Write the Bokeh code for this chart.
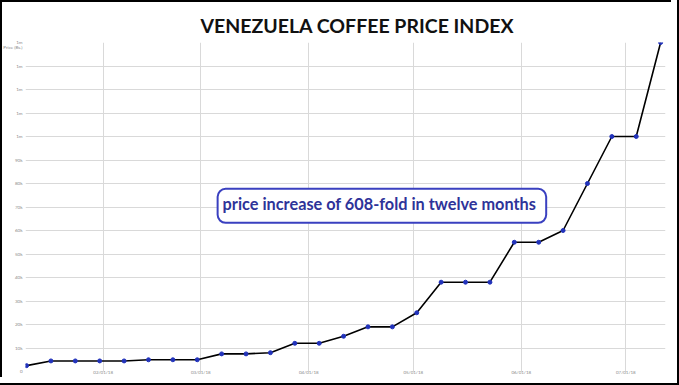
from datetime import datetime, timedelta
from bokeh.plotting import figure
from bokeh.models import (ColumnDataSource, Range1d, FixedTicker, Label)
from bokeh.embed import file_html
from bokeh.resources import INLINE

# ---- data ----
start_date = datetime(2018, 1, 10)
n_weeks = 27
dates = [start_date + timedelta(days=7 * i) for i in range(n_weeks)]
prices = [2500, 4500, 4500, 4500, 4500, 5000, 5000, 5000, 7500, 7500, 8000,
          12000, 12000, 15000, 19000, 19000, 25000, 38000, 38000, 38000,
          55000, 55000, 60000, 80000, 100000, 100000, 140000]

y_ticks = [0, 10000, 20000, 30000, 40000, 50000, 60000, 70000, 80000, 90000,
           100000, 110000, 120000, 130000, 140000]
y_tick_labels = ["0", "10k", "20k", "30k", "40k", "50k", "60k", "70k", "80k",
                 "90k", "1m", "1m", "1m", "1m", "1m"]
x_tick_dates = [datetime(2018, 2, 1), datetime(2018, 3, 1), datetime(2018, 4, 1),
                datetime(2018, 5, 1), datetime(2018, 6, 1), datetime(2018, 7, 1)]
x_tick_labels = ["02/01/18", "03/01/18", "04/01/18", "05/01/18", "06/01/18", "07/01/18"]

title_text = "VENEZUELA COFFEE PRICE INDEX"
note_text = "price increase of 608-fold in twelve months"
y_title = "Price (Bs.)"
y_title_at = 138000


def ms(d):
    return (d - datetime(1970, 1, 1)).total_seconds() * 1000.0


source = ColumnDataSource(dict(x=[ms(d) for d in dates], y=prices))

day = 86400000.0
x0 = ms(dates[0]) - 0.3 * day
x1 = ms(dates[-1]) + 1.4 * day

p = figure(width=671, height=377, output_backend="svg", toolbar_location=None,
           x_range=Range1d(x0, x1), y_range=Range1d(0, 140000),
           min_border_left=22, min_border_right=6, min_border_bottom=5,
           min_border_top=42, background_fill_color="white",
           border_fill_color="white", border_fill_alpha=0)
p.outline_line_color = None
p.styles = {"outline": "2px solid black", "outline-offset": "6px",
            "box-shadow": "inset 2px 2px 0 0 black"}

p.title.text = title_text
p.title.align = "left"
p.title.text_font = "Lato"
p.title.text_font_style = "bold"
p.title.text_font_size = "19.5px"
p.title.text_color = "#111111"
p.title.offset = 175
p.title.standoff = 12

# axes
for ax in (p.xaxis[0], p.yaxis[0]):
    ax.axis_line_color = None
    ax.major_tick_line_color = None
    ax.minor_tick_line_color = None
    ax.major_tick_out = 0
    ax.major_tick_in = 0
    ax.major_label_text_font_size = "4.5px"
    ax.major_label_text_color = "#8a8a8a"
    ax.major_label_text_font = "Lato"

p.xaxis.major_label_standoff = -2
p.yaxis.major_label_standoff = 3
p.xaxis.ticker = FixedTicker(ticks=[ms(d) for d in x_tick_dates])
p.xaxis.major_label_overrides = {ms(d): lab for d, lab in zip(x_tick_dates, x_tick_labels)}
p.yaxis.ticker = FixedTicker(ticks=y_ticks + [y_title_at])
overrides = {t: lab for t, lab in zip(y_ticks, y_tick_labels)}
overrides[y_title_at] = y_title
p.yaxis.major_label_overrides = overrides

# grids
p.xgrid.ticker = FixedTicker(ticks=[ms(d) for d in x_tick_dates])
p.ygrid.ticker = FixedTicker(ticks=y_ticks)
p.xgrid.grid_line_color = "#d9d9d9"
p.ygrid.grid_line_color = "#d9d9d9"
p.xgrid.grid_line_width = 1
p.ygrid.grid_line_width = 1

p.line("x", "y", source=source, line_color="black", line_width=1.6)
p.scatter("x", "y", source=source, size=4, fill_color="#2233bb",
          line_color="#2233bb")

# annotation box
p.add_layout(Label(x=ms(datetime(2018, 4, 22)), y=70500, text=note_text,
                   text_font="Lato", text_font_size="16.3px",
                   text_font_style="bold",
                   text_color="#2e3399", text_align="center",
                   text_baseline="middle",
                   background_fill_color="white",
                   border_line_color="#3a40c0", border_line_width=2,
                   border_radius=8, padding=[5, 10, 5, 10]))

open("out.html", "w").write(file_html(p, INLINE))
